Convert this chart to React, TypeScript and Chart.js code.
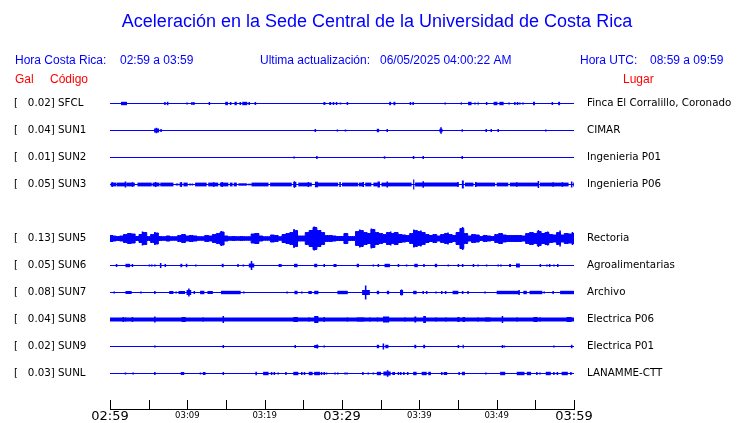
import React, { useEffect, useRef } from 'react';
import { Chart, registerables } from 'chart.js';

Chart.register(...registerables);

// ---------- text ----------
const titleText = 'Aceleración en la Sede Central de la Universidad de Costa Rica';
const headerBlue: [string, number][] = [
  ['Hora Costa Rica:', 15],
  ['02:59 a 03:59', 120],
  ['Ultima actualización:', 260],
  ['06/05/2025 04:00:22 AM', 380],
  ['Hora UTC:', 580],
  ['08:59 a 09:59', 650],
];
const headerRed: [string, number][] = [
  ['Gal', 15],
  ['Código', 50],
  ['Lugar', 623],
];

// ---------- stations ----------
const stations = ['SFCL', 'SUN1', 'SUN2', 'SUN3', 'SUN5', 'SUN6', 'SUN7', 'SUN8', 'SUN9', 'SUNL'];
const peakGal = ['0.02', '0.04', '0.01', '0.05', '0.13', '0.05', '0.08', '0.04', '0.02', '0.03'];
const places = [
  'Finca El Corralillo, Coronado', 'CIMAR', 'Ingenieria P01', 'Ingenieria P06', 'Rectoria',
  'Agroalimentarias', 'Archivo', 'Electrica P06', 'Electrica P01', 'LANAMME-CTT',
];
const rowSlots = [0, 1, 2, 3, 5, 6, 7, 8, 9, 10];

// ---------- time axis (minutes after 02:59) ----------
const timeTicks = [0, 5, 10, 15, 20, 25, 30, 35, 40, 45, 50, 55, 60];
const timeLabels = ['02:59', '', '03:09', '', '03:19', '', '03:29', '', '03:39', '', '03:49', '', '03:59'];

// ---------- traces: bursts [start min, end min, half amplitude] ----------
type Burst = [number, number, number];
const sfcl: Burst[] = [
  [1.42, 2.2, 1.7], [7.1, 7.1, 1.5], [7.35, 7.55, 1.7], [9.96, 9.96, 1], [10.6, 10.6, 1.5], [10.85, 10.85, 1.5],
  [12.85, 12.85, 1.5], [14.9, 15.25, 1.7], [15.6, 15.6, 1.5], [16.1, 16.4, 1.7], [16.85, 16.85, 1.5],
  [17.1, 17.75, 1.7], [18.0, 18.0, 1.5], [18.8, 18.8, 1.5], [27.6, 27.85, 1.5], [28.35, 28.6, 1.5],
  [28.9, 28.9, 1.5], [29.3, 29.3, 1.5], [29.8, 29.8, 1], [30.7, 30.7, 1.5], [36.1, 36.35, 1.7],
  [36.65, 36.9, 1.7], [38.85, 38.85, 1.5], [39.2, 39.2, 1.5], [43.35, 43.35, 1], [45.0, 45.1, 1.2],
  [45.35, 45.5, 1.2], [46.3, 46.75, 1.7], [47.2, 47.2, 1], [47.55, 47.65, 1.7], [48.7, 48.7, 1.5],
  [49.6, 50.1, 1.7], [50.35, 50.9, 1.7], [51.6, 51.6, 1], [52.35, 52.35, 1.5], [52.7, 52.7, 1.5],
  [53.0, 53.0, 1], [53.4, 53.4, 1], [54.7, 54.95, 1.7], [57.2, 57.2, 1.5], [57.95, 58.2, 1.7],
];
const sun1: Burst[] = [
  [5.7, 6.35, 2], [6.0, 6.0, 2.7], [6.6, 6.6, 1.5], [26.55, 26.55, 1.5], [29.4, 29.4, 1], [30.45, 30.45, 1],
  [34.5, 34.8, 1.7], [35.85, 35.85, 1.5], [42.6, 43.0, 1.7], [42.8, 42.8, 3.3], [45.55, 45.55, 1.2],
  [48.65, 48.65, 1.5], [49.3, 49.3, 1.5], [50.2, 50.2, 1.5], [56.35, 56.35, 1],
];
const sun2: Burst[] = [
  [23.8, 23.8, 1], [26.75, 26.75, 1.5], [35.5, 35.5, 1.2], [39.15, 39.35, 1.5], [40.5, 40.5, 1.5], [45.55, 45.55, 1.5],
];
const sun3: Burst[] = [
  [0.1, 0.8, 1.9], [0.3, 0.3, 2.3], [0.85, 1.95, 1.9], [2.0, 2.0, 3], [2.1, 3.2, 1.9], [2.9, 2.9, 2.3],
  [3.55, 5.4, 1.9], [5.5, 6.4, 1.9], [5.9, 5.9, 2.5], [6.5, 8.2, 1.9], [8.5, 8.85, 1], [9.0, 9.35, 1.9],
  [9.2, 9.2, 2.5], [9.5, 10.05, 1.9], [10.35, 10.35, 1], [10.65, 10.65, 1], [11.0, 12.5, 1.9],
  [12.7, 14.0, 1.9], [13.4, 13.4, 2.3], [14.2, 15.3, 1.9], [14.5, 14.5, 2.5], [15.5, 15.85, 1.9],
  [16.0, 16.4, 1.9], [16.6, 17.7, 1.2], [17.8, 18.3, 0.8], [18.3, 20.5, 1.9], [20.7, 23.5, 1.9],
  [23.7, 24.1, 2.5], [23.85, 23.85, 3.3], [24.35, 26.1, 1.9], [25.65, 25.65, 2.5], [26.5, 26.9, 2.8],
  [26.9, 29.5, 1.9], [29.75, 29.75, 2.5], [30.0, 32.1, 1.9], [32.2, 32.75, 1.9], [32.75, 32.75, 2.5],
  [33.0, 33.8, 1.9], [34.05, 34.9, 1.9], [34.6, 34.9, 3], [35.1, 39.0, 1.9], [35.85, 35.85, 3],
  [39.2, 39.35, 5], [39.45, 45.05, 1.9], [40.5, 40.5, 3.3], [44.9, 45.1, 2.5], [45.5, 45.75, 4],
  [45.9, 47.0, 1.9], [47.2, 49.8, 1.9], [47.3, 47.3, 2.5], [50.0, 51.5, 1.9], [51.7, 55.4, 1.9],
  [52.6, 52.6, 2.3], [55.3, 55.5, 3.5], [55.6, 59.3, 1.9], [57.3, 57.3, 2.3], [58.5, 58.5, 2.3],
  [59.6, 59.8, 3], [59.9, 60, 1.9],
];
// SUN5 is a continuous band: envelope every half minute, plus its tallest spikes
const sun5Envelope = [
  3, 2.5, 2, 2.5, 4, 5, 4.5, 2, 4, 6, 2, 4, 5.5, 2, 1.8, 2.5, 1.8, 1.8, 3, 4,
  2.5, 3, 2.5, 1.8, 1.8, 3, 2.5, 4, 5, 6.5, 2.5, 1.8, 2, 1.8, 2, 1.8, 1.8, 4.5, 5, 2.5,
  1.8, 1.8, 3.5, 3, 1.8, 4, 5, 6, 8, 2.5, 2.5, 6, 8, 11, 8, 6, 3, 3, 2.5, 2,
  2, 5, 2, 2, 7, 8, 6, 5, 9, 6, 5, 4, 6, 5, 6, 4, 3.5, 3, 5, 8,
  7, 6, 4, 3, 4, 2.5, 4, 5, 4, 3, 6, 10, 5, 2.5, 4, 3.5, 2, 3, 2.5, 2,
  4, 5, 3.5, 3, 3, 3, 3, 2.5, 5, 6, 5, 7, 5, 6, 4, 3.5, 6, 3.5, 5, 4.5, 5,
];
const sun5: Burst[] = [
  [0.3, 0.3, 3.5], [2.6, 2.6, 5], [4.2, 4.2, 7], [5.8, 5.8, 6.5], [9.4, 9.4, 4.5], [14.4, 14.4, 7.5],
  [18.8, 18.8, 5.5], [23.8, 23.8, 9.5], [24.2, 24.2, 7], [26.4, 26.4, 12], [27.2, 27.2, 8.5],
  [30.4, 30.4, 5.5], [32.3, 32.3, 9], [33.8, 33.8, 10], [36.3, 36.3, 7], [39.3, 39.3, 9],
  [40.2, 40.2, 8], [43.7, 43.7, 6], [45.6, 45.6, 11.5], [50.6, 50.6, 5.5], [55.4, 55.4, 8.5],
  [56.6, 56.6, 7], [58.2, 58.2, 8], [59.8, 59.8, 6.5],
];
const sun6: Burst[] = [
  [0.85, 0.85, 1.5], [2.0, 2.6, 1.7], [2.9, 2.9, 1.5], [5.1, 5.1, 1], [5.4, 5.4, 1], [5.8, 5.8, 1],
  [6.55, 6.55, 2.5], [7.15, 7.15, 1.5], [9.1, 9.35, 1.7], [9.9, 9.9, 1.7], [11.1, 11.1, 1],
  [14.45, 14.7, 1.7], [16.55, 16.55, 1.5], [17.25, 17.25, 1], [17.95, 18.65, 2], [18.3, 18.3, 4.5],
  [21.9, 21.9, 1.5], [22.1, 22.1, 1.5], [23.8, 24.25, 1.7], [26.4, 26.8, 1.7], [27.7, 27.7, 1.5],
  [28.9, 29.3, 1.5], [31.9, 32.2, 1.7], [34.05, 34.05, 1], [34.6, 34.8, 1.5], [35.5, 36.2, 1.7],
  [37.3, 37.3, 1.5], [38.35, 38.35, 1], [39.35, 39.8, 1.7], [40.6, 40.6, 1.5], [42.0, 42.3, 1.7],
  [43.75, 43.75, 1], [45.05, 45.05, 1.5], [45.6, 45.6, 1.5], [47.0, 47.0, 1.5], [47.6, 47.6, 1],
  [48.7, 48.7, 1], [50.2, 50.2, 1], [50.55, 50.55, 1], [51.6, 51.85, 1.5], [52.5, 53.0, 2],
  [55.65, 55.65, 1.5], [56.5, 56.5, 1], [56.85, 56.85, 1.5], [57.4, 57.4, 1], [57.9, 57.9, 1.5],
];
const sun7: Burst[] = [
  [0.55, 0.55, 1], [2.0, 2.8, 1.5], [4.0, 4.0, 1], [5.8, 5.8, 1.5], [7.65, 8.2, 1.5], [8.55, 8.55, 1],
  [8.85, 9.7, 1.5], [9.9, 10.5, 2.5], [10.2, 10.2, 4], [10.9, 10.9, 1.5], [11.65, 12.2, 1.7],
  [12.6, 13.3, 1.5], [14.35, 16.9, 1.7], [17.3, 17.3, 1], [22.9, 22.9, 1], [23.85, 24.25, 1.7],
  [24.8, 24.8, 1], [25.65, 26.1, 1.5], [26.4, 26.95, 1.7], [29.4, 30.75, 1.7], [32.6, 33.6, 2.5],
  [33.06, 33.06, 7], [34.5, 34.8, 1.7], [35.8, 36.1, 1.7], [37.5, 37.9, 2.5], [37.7, 37.7, 3],
  [39.2, 39.65, 1.7], [40.5, 40.5, 1.5], [40.95, 40.95, 1.5], [42.15, 42.15, 1], [42.9, 42.9, 1.5],
  [43.4, 43.4, 1.5], [44.3, 45.05, 1.7], [45.6, 45.6, 1.5], [46.3, 46.3, 1.5], [48.5, 48.5, 1],
  [50.0, 52.9, 1.7], [52.9, 52.9, 2.5], [53.45, 53.9, 1.7], [54.25, 55.9, 1.7], [56.15, 56.15, 1],
  [57.3, 57.3, 1.5], [58.2, 60, 1.7],
];
const sun8: Burst[] = [
  [0, 60, 1.9], [1.7, 1.7, 2.5], [2.0, 2.0, 2], [2.9, 2.9, 2.5], [5.8, 5.8, 3], [9.25, 9.8, 2.5],
  [12.05, 12.05, 2], [14.65, 14.65, 3.5], [23.7, 24.3, 2.5], [25.75, 25.75, 2], [26.4, 26.95, 3.5],
  [27.7, 27.7, 2.5], [30.7, 30.7, 2], [31.9, 32.9, 2], [33.6, 33.6, 2], [34.6, 34.6, 2],
  [35.3, 36.1, 3], [38.15, 38.15, 2], [39.35, 39.6, 3], [40.5, 40.85, 3.5], [42.15, 42.15, 2],
  [43.45, 43.45, 2], [44.9, 45.2, 2.5], [45.6, 45.9, 2.5], [47.6, 47.6, 2], [48.5, 49.2, 2],
  [50.75, 50.75, 3.5], [52.65, 52.65, 2], [54.75, 55.3, 2.5], [55.6, 55.6, 2], [59.05, 59.7, 2.5],
];
const sun9: Burst[] = [
  [5.8, 5.8, 1], [14.65, 14.65, 1.5], [23.85, 24.05, 1.5], [26.4, 26.95, 1.5], [26.8, 26.8, 2],
  [27.7, 27.7, 1], [34.5, 34.8, 1.7], [35.35, 35.35, 3], [35.6, 36.0, 1.7], [39.35, 39.6, 1.7],
  [40.5, 40.75, 1.7], [45.05, 45.05, 1.5], [45.6, 45.75, 1.7], [50.75, 50.75, 1.5], [51.0, 51.0, 1],
  [57.4, 57.4, 1], [59.6, 59.8, 1.7],
];
const sunl: Burst[] = [
  [2.0, 2.0, 1], [3.0, 3.0, 1], [5.8, 5.8, 1.5], [9.15, 9.6, 1.5], [11.7, 11.7, 1], [12.0, 12.35, 1.5],
  [14.65, 14.65, 1.5], [18.9, 18.9, 1.7], [19.8, 20.5, 1.7], [20.9, 20.9, 1.5], [21.25, 21.25, 1.5],
  [21.75, 21.75, 1], [22.75, 22.75, 1.5], [23.7, 24.35, 1.7], [24.8, 24.8, 1.5], [25.15, 25.15, 1.5],
  [25.7, 26.2, 1.7], [26.4, 27.15, 1.7], [27.35, 27.35, 1.5], [27.7, 27.7, 1.5], [28.0, 28.0, 1],
  [29.1, 29.1, 1], [29.45, 29.45, 1], [30.4, 30.4, 1], [30.65, 30.65, 1], [32.7, 32.7, 1.5],
  [33.4, 33.4, 1], [34.05, 34.05, 1], [34.5, 35.05, 1.7], [35.35, 36.3, 2], [35.9, 35.9, 3.3],
  [36.5, 36.85, 1.5], [37.3, 37.3, 1.5], [37.6, 37.6, 1.5], [38.0, 38.0, 1.5], [38.5, 38.5, 1.5],
  [39.2, 39.65, 1.7], [40.3, 40.95, 1.7], [41.15, 41.5, 1.7], [42.9, 42.9, 1.5], [43.15, 43.6, 1.5],
  [45.05, 45.25, 1.5], [45.5, 45.9, 1.7], [48.6, 48.6, 1], [50.45, 51.1, 1.7], [52.6, 53.6, 1.7],
  [53.9, 54.45, 1.7], [55.2, 55.2, 1.5], [55.6, 55.6, 1], [56.35, 57.0, 1.7], [57.4, 57.4, 1.5],
  [57.85, 57.85, 1.5], [58.4, 59.2, 1.7], [59.6, 59.6, 1.5],
];
const traces: Burst[][] = [sfcl, sun1, sun2, sun3, sun5, sun6, sun7, sun8, sun9, sunl];
const sun5Index = 4;

// ---------- style constants ----------
const BLUE = '#0000ff';
const RED = '#ff0000';
const ROW = 27;          // axis units between stations
const SPIKE = 0.2;       // drawn width (minutes) of an instantaneous spike
const HEAD_FONT = '"Liberation Sans", Arial, Helvetica, sans-serif';
const MONO_FONT = '"DejaVu Sans", sans-serif';

const overlayPlugin = {
  id: 'overlay',
  afterDraw(chart: any) {
    const { ctx, chartArea, scales } = chart;
    const x = scales.x;
    ctx.save();
    ctx.strokeStyle = '#000';
    ctx.lineWidth = 1;
    ctx.beginPath();
    for (const v of timeTicks) {
      const px = Math.round(x.getPixelForValue(v)) + 0.5;
      ctx.moveTo(px, chartArea.bottom - 9);
      ctx.lineTo(px, chartArea.bottom + 1);
    }
    ctx.stroke();
    ctx.textBaseline = 'middle';
    ctx.textAlign = 'left';
    ctx.font = `12px ${HEAD_FONT}`;
    ctx.fillStyle = BLUE;
    for (const [t, px] of headerBlue) ctx.fillText(t, px, 61);
    ctx.fillStyle = RED;
    for (const [t, px] of headerRed) ctx.fillText(t, px, 80);
    ctx.restore();
  },
};

export default function App() {
  const ref = useRef<HTMLCanvasElement | null>(null);

  useEffect(() => {
    document.body.style.margin = '0';
    const canvas = ref.current;
    if (!canvas) return;

    const baseline: any[] = [];
    const bursts: any[] = [];
    rowSlots.forEach((slot, i) => {
      const y = slot * ROW;
      baseline.push({ x: 0, y }, { x: 60, y }, { x: 60, y: null });
      for (const [t0, t1, a] of traces[i]) {
        const s = t0 === t1 ? t0 - SPIKE / 2 : t0;
        const e = t0 === t1 ? t0 + SPIKE / 2 : t1;
        bursts.push({ x: s, y, a }, { x: e, y, a }, { x: e, y: null, a });
      }
    });
    const y5 = rowSlots[sun5Index] * ROW;
    const upper = sun5Envelope.map((a, k) => ({ x: k * 0.5, y: y5 - a }));
    const lower = sun5Envelope.map((a, k) => ({ x: k * 0.5, y: y5 + a }));

    const common = { pointRadius: 0, pointHitRadius: 0, tension: 0, borderColor: BLUE, spanGaps: false };

    const stationLabel = (v: number) => {
      const i = rowSlots.indexOf(Math.round(v / ROW));
      return i < 0 ? '' : `[   ${peakGal[i]}] ${stations[i]}`;
    };
    const placeLabel = (v: number) => {
      const i = rowSlots.indexOf(Math.round(v / ROW));
      return i < 0 ? '' : places[i];
    };
    const rowTicks = (s: any) => { s.ticks = rowSlots.map((r) => ({ value: r * ROW })); };

    const chart = new Chart(canvas, {
      type: 'line',
      data: {
        datasets: [
          { ...common, data: upper, borderWidth: 1, stepped: 'middle', fill: '+1', backgroundColor: BLUE },
          { ...common, data: lower, borderWidth: 1, stepped: 'middle', fill: false },
          { ...common, data: baseline, borderWidth: 1, fill: false },
          {
            ...common,
            data: bursts,
            fill: false,
            borderWidth: 2,
            segment: {
              borderWidth: (c: any) => {
                const d = c.chart.data.datasets[c.datasetIndex].data[c.p0DataIndex];
                const ys = c.chart.scales.y;
                return Math.abs(ys.getPixelForValue(d.a) - ys.getPixelForValue(0)) * 2;
              },
            },
          },
        ] as any,
      },
      options: {
        animation: false,
        responsive: false,
        devicePixelRatio: 1,
        events: [],
        layout: { padding: { left: 14, right: 0, top: 0, bottom: 0 } },
        plugins: {
          legend: { display: false },
          tooltip: { enabled: false },
          title: {
            display: true,
            text: titleText,
            color: BLUE,
            font: { family: HEAD_FONT, size: 18, weight: 'normal', lineHeight: '22px' } as any,
            padding: { top: 11, bottom: 57 },
          },
        },
        scales: {
          x: {
            type: 'linear',
            min: 0,
            max: 60,
            offset: false,
            afterBuildTicks: (s: any) => { s.ticks = timeTicks.map((v) => ({ value: v })); },
            afterFit: (s: any) => { s.height = 14; },
            grid: { display: false, drawTicks: false },
            border: { display: true, color: '#000', width: 1 },
            ticks: {
              autoSkip: false,
              maxRotation: 0,
              minRotation: 0,
              padding: 0,
              color: '#000',
              callback: (v: any) => timeLabels[timeTicks.indexOf(Number(v))] ?? '',
              font: (c: any) =>
                c.tick && c.tick.value % 30 === 0
                  ? { family: MONO_FONT, size: 13, lineHeight: '15px' }
                  : { family: MONO_FONT, size: 8.5, lineHeight: '13px' },
            } as any,
          },
          y: {
            type: 'linear',
            position: 'left',
            reverse: true,
            min: -13.5,
            max: 305.5,
            afterBuildTicks: rowTicks,
            afterFit: (s: any) => { s.width = 96; s.paddingTop = 0; s.paddingBottom = 0; },
            grid: { display: false, drawTicks: false },
            border: { display: false },
            ticks: {
              autoSkip: false,
              crossAlign: 'far',
              padding: 0,
              color: '#000',
              font: { family: MONO_FONT, size: 10.3 },
              callback: (v: any) => stationLabel(Number(v)),
            },
          },
          y2: {
            type: 'linear',
            position: 'right',
            reverse: true,
            min: -13.5,
            max: 305.5,
            afterBuildTicks: rowTicks,
            afterFit: (s: any) => { s.width = 166; s.paddingTop = 0; s.paddingBottom = 0; },
            grid: { display: false, drawTicks: false },
            border: { display: false },
            ticks: {
              autoSkip: false,
              crossAlign: 'near',
              padding: 13,
              color: '#000',
              font: { family: MONO_FONT, size: 10.3 },
              callback: (v: any) => placeLabel(Number(v)),
            },
          },
        },
      } as any,
      plugins: [overlayPlugin],
    });
    return () => chart.destroy();
  }, []);

  return (
    <div style={{ width: 740, height: 423, background: '#fff' }}>
      <canvas ref={ref} width={740} height={423} style={{ display: 'block' }} />
    </div>
  );
}
